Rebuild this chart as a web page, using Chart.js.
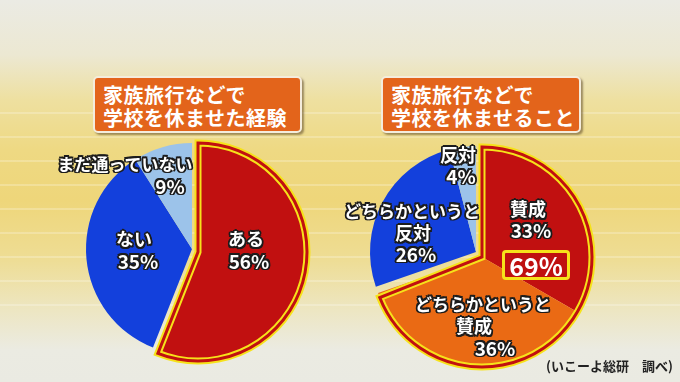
<!DOCTYPE html>
<html><head><meta charset="utf-8">
<script src="https://cdn.jsdelivr.net/npm/chart.js@4.4.0/dist/chart.umd.min.js"></script>
<style>
html,body{margin:0;padding:0;}
body{width:680px;height:382px;overflow:hidden;position:relative;font-family:"Noto Sans CJK JP","Noto Sans",sans-serif;
background:linear-gradient(180deg,#ebebe4 0px,#ece8d2 55px,#eee0a0 100px,#eed983 150px,#eed67a 200px,#eedd95 260px,#ede6c2 310px,#ebebe2 350px,#eaeae2 382px);}
#lines{position:absolute;left:0;top:90px;width:680px;height:230px;
background:repeating-linear-gradient(180deg,rgba(255,255,255,0) 0px,rgba(255,255,255,0) 22px,rgba(255,255,255,.45) 23px,rgba(255,255,255,0) 24px);}
.layer{position:absolute;width:240px;height:240px;}
.title{position:absolute;box-sizing:border-box;height:57px;background:#e3641b;border:2px solid #f4ecdc;border-radius:5px;
box-shadow:2px 2px 2px rgba(90,70,40,.55);color:#fff;font-weight:bold;font-size:20px;line-height:23px;padding:5px 0 0 8px;letter-spacing:0.5px;white-space:nowrap;}
.lbl{position:absolute;color:#fff;font-weight:bold;white-space:nowrap;transform:translate(-50%,-50%);line-height:1;
text-shadow:-1.5px -1.5px 0 #1c1c1c,1.5px -1.5px 0 #1c1c1c,-1.5px 1.5px 0 #1c1c1c,1.5px 1.5px 0 #1c1c1c,0 1.8px 0 #1c1c1c,0 -1.8px 0 #1c1c1c,1.8px 0 0 #1c1c1c,-1.8px 0 0 #1c1c1c;}
#total{position:absolute;left:502px;top:250px;width:68px;height:30px;box-sizing:border-box;background:#bf1010;border:3px solid #f6e21a;border-radius:4px;
color:#fff;font-weight:bold;font-size:25px;line-height:24px;text-align:center;}
#src{position:absolute;left:546px;top:356px;font-size:13px;font-weight:bold;color:#222;white-space:nowrap;}
</style></head>
<body>
<div id="lines"></div>
<div class="title" style="left:93px;top:76px;width:209px;">家族旅行などで<br>学校を休ませた経験</div>
<div class="title" style="left:381px;top:76px;width:200px;">家族旅行などで<br>学校を休ませること</div>

<div class="layer" style="left:72px;top:129px;"><canvas id="l0"></canvas></div>
<div class="layer" style="left:78px;top:132px;"><canvas id="l1"></canvas></div>
<div class="layer" style="left:78px;top:132px;"><canvas id="l2"></canvas></div>

<div class="layer" style="left:356px;top:132px;"><canvas id="r0"></canvas></div>
<div class="layer" style="left:362px;top:137px;"><canvas id="r1"></canvas></div>
<div class="layer" style="left:362px;top:137px;"><canvas id="r2"></canvas></div>
<div class="layer" style="left:362px;top:137px;"><canvas id="r3"></canvas></div>

<div id="total"></div>
<div id="src">(いこーよ総研　調べ)</div>

<script>
// ---- data ----
const leftCategories = ['ある', 'ない', 'まだ通っていない'];
const leftValues = [56, 35, 9];
const rightCategories = ['賛成', 'どちらかというと賛成', 'どちらかというと反対', '反対'];
const rightValues = [33, 36, 26, 4];
const agreeGroup = ['賛成（計）', 'その他'];
const agreeValues = [69, 31];

// ---- styles ----
const RED = '#c11010', BLUE = '#1340dc', LIGHT = '#9cc3ea', ORANGE = '#ea6a14', YELLOW = '#f6e21a', T = 'rgba(0,0,0,0)';

function pie(id, values, bg, bc, bw, radius) {
  return new Chart(document.getElementById(id), {
    type: 'pie',
    data: { labels: values.map((v, i) => String(i)), datasets: [{
      data: values, backgroundColor: bg, borderColor: bc, borderWidth: bw,
      borderJoinStyle: 'miter', borderAlign: 'center' }] },
    options: {
      responsive: true, maintainAspectRatio: false, animation: false, events: [],
      radius: radius, layout: { padding: 0 },
      plugins: { legend: { display: false }, tooltip: { enabled: false }, title: { display: false } }
    }
  });
}

// left pie: base, exploded slice, outline stripes
pie('l0', leftValues, [T, BLUE, LIGHT], T, 0, 106);
pie('l1', leftValues, [RED, T, T], [YELLOW, T, T], [7, 0, 0], 109);
pie('l2', leftValues, [T, T, T], [RED, T, T], [3, 0, 0], 109);

// right pie: base, exploded agree group, group outline stripes
pie('r0', rightValues, [T, T, BLUE, LIGHT], T, 0, 106);
pie('r1', rightValues, [RED, ORANGE, T, T], T, 0, 110);
pie('r2', agreeValues, [T, T], [YELLOW, T], [7, 0], 110);
pie('r3', agreeValues, [T, T], [RED, T], [3, 0], 110);

document.getElementById('total').textContent = agreeValues[0] + '%';

// ---- labels (text from data, positions are layout) ----
const labelLayout = [
  ['まだ通っていない', 125, 163, 17],
  [leftValues[2] + '%', 170, 185, 19],
  ['ない', 134, 238, 18],
  [leftValues[1] + '%', 138, 260, 19],
  ['ある', 246, 238, 18],
  [leftValues[0] + '%', 249, 260, 19],
  ['反対', 458, 154, 18],
  [rightValues[3] + '%', 461, 175, 19],
  ['どちらかというと', 412, 210, 17],
  ['反対', 413, 232, 18],
  [rightValues[2] + '%', 416, 253, 19],
  ['賛成', 528, 208, 18],
  [rightValues[0] + '%', 531, 229, 19],
  ['どちらかというと', 483, 303, 17],
  ['賛成', 474, 325, 18],
  [rightValues[1] + '%', 495, 347, 19]
];
for (const [t, x, y, s] of labelLayout) {
  const d = document.createElement('div');
  d.className = 'lbl';
  d.textContent = t;
  d.style.left = x + 'px'; d.style.top = y + 'px'; d.style.fontSize = s + 'px';
  document.body.appendChild(d);
}
</script>
</body></html>
